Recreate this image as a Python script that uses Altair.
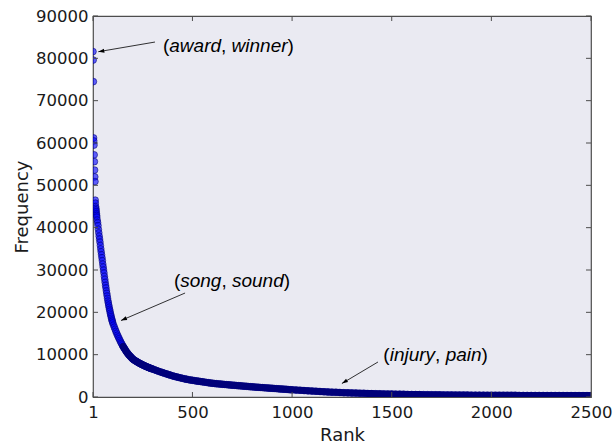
import math
import altair as alt
import pandas as pd

# ---------------- data ----------------
ranks_a = list(range(1, 21))
freq_a = [81600, 79600, 74500, 61200, 60500, 59500, 57200, 55600, 53600, 52000,
          50900, 46500, 45800, 45000, 44600, 44200, 43800, 43300, 42900, 42500]

ranks_b = list(range(22, 101, 2))
freq_b = [41800, 41200, 40500, 39600, 38800, 38000, 37300, 36600, 35800, 35000,
          34300, 33600, 32900, 32200, 31400, 30700, 30000, 29300, 28500, 27800,
          27100, 26400, 25800, 25100, 24500, 23900, 23300, 22700, 22200, 21700,
          21200, 20700, 20300, 19800, 19400, 19000, 18600, 18200, 17900, 17500]

ranks_c = list(range(104, 301, 4))
freq_c = [17000, 16500, 16000, 15500, 15050, 14600, 14200, 13800, 13400, 13000,
          12650, 12300, 11950, 11650, 11350, 11050, 10750, 10500, 10250, 10000,
          9800, 9600, 9400, 9200, 9000, 8850, 8720, 8600, 8480, 8360,
          8250, 8140, 8030, 7930, 7830, 7730, 7640, 7550, 7460, 7370,
          7280, 7200, 7120, 7040, 6960, 6880, 6810, 6740, 6670, 6600]

ranks_d = list(range(310, 1001, 10))
freq_d = [6420, 6250, 6080, 5920, 5760, 5600, 5450, 5300, 5150, 5000,
          4870, 4750, 4630, 4520, 4410, 4300, 4200, 4100, 4020, 3950,
          3870, 3800, 3730, 3660, 3590, 3520, 3450, 3380, 3310, 3250,
          3200, 3150, 3100, 3050, 3010, 2970, 2920, 2880, 2840, 2800,
          2760, 2720, 2680, 2640, 2600, 2560, 2520, 2480, 2440, 2400,
          2365, 2330, 2295, 2260, 2225, 2190, 2155, 2120, 2085, 2050,
          2015, 1980, 1945, 1910, 1875, 1840, 1805, 1770, 1735, 1700]

ranks_e = list(range(1020, 2501, 20))
freq_e = [1640, 1580, 1520, 1460, 1400,
          1350, 1300, 1250, 1200, 1150,
          1110, 1070, 1030, 990, 950,
          920, 890, 860, 830, 800,
          780, 755, 735, 710, 690,
          670, 655, 635, 620, 600,
          585, 570, 555, 545, 530,
          520, 510, 500, 490, 480,
          470, 460, 455, 445, 440,
          435, 430, 420, 415, 410,
          405, 400, 400, 395, 390,
          385, 380, 380, 375, 370,
          365, 365, 360, 355, 355,
          350, 350, 345, 340, 340,
          335, 335, 330, 330, 330]

x_ticks = [1, 500, 1000, 1500, 2000, 2500]
y_ticks = [0, 10000, 20000, 30000, 40000, 50000, 60000, 70000, 80000, 90000]

# annotations: (word1, word2), text anchor, arrow tail, arrow tip (data units)
ann_words = [("award", "winner"), ("song", "sound"), ("injury", "pain")]
ann_text_rank = [352, 407, 1458]
ann_text_freq = [81500, 26100, 8620]
ann_tail_rank = [312, 463, 1431]
ann_tail_freq = [83850, 24560, 8270]
ann_tip_rank = [27.6, 141.5, 1250]
ann_tip_freq = [81560, 18070, 3190]

# ---------------- layout ----------------
W, H = 498, 381
X_DOM = [1, 2500]
Y_DOM = [0, 90000]
px_per_rank = W / (X_DOM[1] - X_DOM[0])
px_per_freq = H / (Y_DOM[1] - Y_DOM[0])
DENSE_FROM = 150  # where overlapping markers merge into a solid dark band

ranks = ranks_a + ranks_b + ranks_c + ranks_d + ranks_e
freqs = freq_a + freq_b + freq_c + freq_d + freq_e
assert len(ranks) == len(freqs)
df = pd.DataFrame({"rank": ranks, "freq": freqs})

x_scale = alt.Scale(domain=X_DOM, nice=False, zero=False)
y_scale = alt.Scale(domain=Y_DOM, nice=False, zero=False)

TXT = "#1a1a1a"
FRAME = "#4d4d4d"

x_axis = alt.Axis(values=x_ticks, format="d", title="Rank", grid=False,
                  domain=False, tickSize=0, labelPadding=7, labelFlush=False,
                  labelOverlap=False, labelFont="DejaVu Sans",
                  labelFontSize=16.5, labelColor=TXT,
                  titleFont="DejaVu Sans", titleFontSize=18,
                  titleFontWeight="normal", titleColor=TXT,
                  titleY=43, titleBaseline="alphabetic")
y_axis = alt.Axis(values=y_ticks, format="d", title="Frequency",
                  grid=False, domain=False, tickSize=0, labelPadding=5,
                  labelOverlap=False, labelFlush=False,
                  labelFont="DejaVu Sans", labelFontSize=16.5,
                  labelColor=TXT, titleFont="DejaVu Sans",
                  titleFontSize=18, titleFontWeight="normal",
                  titleColor=TXT, titleX=-66, titleY=H / 2,
                  titleAngle=-90, titleAlign="center",
                  titleBaseline="alphabetic")

X = lambda f: alt.X(f, scale=x_scale, axis=x_axis)
Y = lambda f: alt.Y(f, scale=y_scale, axis=y_axis)

points = alt.Chart(df).mark_point(
    shape="circle", filled=True, fill="#0000ff", fillOpacity=0.6,
    stroke="#00006e", strokeOpacity=0.6, strokeWidth=0.9, size=45, clip=True
).encode(x=X("rank:Q"), y=Y("freq:Q"))

band = alt.Chart(df).transform_filter(f"datum.rank >= {DENSE_FROM}").mark_line(
    color="#00007a", strokeWidth=7, strokeCap="round", strokeJoin="round",
    clip=True
).encode(x=X("rank:Q"), y=Y("freq:Q"))

xt = pd.DataFrame({"v": x_ticks})
yt = pd.DataFrame({"v": y_ticks})
TL = 5
tick_kw = dict(color=FRAME, strokeWidth=1)
ticks_bottom = alt.Chart(xt).mark_rule(**tick_kw).encode(
    x=X("v:Q"), y=alt.value(H), y2=alt.value(H - TL))
ticks_top = alt.Chart(xt).mark_rule(**tick_kw).encode(
    x=X("v:Q"), y=alt.value(0), y2=alt.value(TL))
ticks_left = alt.Chart(yt).mark_rule(**tick_kw).encode(
    y=Y("v:Q"), x=alt.value(0), x2=alt.value(TL))
ticks_right = alt.Chart(yt).mark_rule(**tick_kw).encode(
    y=Y("v:Q"), x=alt.value(W), x2=alt.value(W - TL))

# arrows
angles = []
for tr, tf, pr, pf in zip(ann_tail_rank, ann_tail_freq, ann_tip_rank, ann_tip_freq):
    dx = (pr - tr) * px_per_rank
    dy = -(pf - tf) * px_per_freq
    angles.append(math.degrees(math.atan2(dx, -dy)) % 360)
arr = pd.DataFrame({"tr": ann_tail_rank, "tf": ann_tail_freq,
                    "pr": ann_tip_rank, "pf": ann_tip_freq, "ang": angles})
arrow_lines = alt.Chart(arr).mark_rule(color="black", strokeWidth=0.8).encode(
    x=X("tr:Q"), x2="pr:Q", y=Y("tf:Q"), y2="pf:Q")
arrow_heads = alt.Chart(arr).mark_point(
    shape="M0,0L0.65,2L-0.65,2Z", filled=True, fill="black", fillOpacity=1,
    size=36, strokeWidth=0
).encode(x=X("pr:Q"), y=Y("pf:Q"), angle=alt.Angle("ang:Q", scale=None))

# annotation text pieces: "(" word1 ", " word2 ")" with italic words
arial = {"(": 333, ")": 333, ",": 278, " ": 278, "a": 556, "w": 722, "r": 333,
         "d": 556, "i": 222, "n": 556, "e": 556, "s": 500, "o": 556, "g": 556,
         "u": 556, "j": 222, "y": 500, "p": 556}
FS = 19
rows = []
for (w1, w2), r0, f0 in zip(ann_words, ann_text_rank, ann_text_freq):
    off = 0.0
    for piece, ital in [("(", False), (w1, True), (", ", False), (w2, True), (")", False)]:
        rows.append({"t": piece, "r": r0 + off / px_per_rank, "f": f0,
                     "st": "italic" if ital else "normal"})
        off += sum(arial[c] for c in piece) / 1000 * FS
tdf = pd.DataFrame(rows)
txt_kw = dict(align="left", baseline="alphabetic", font="Liberation Sans",
              fontSize=FS, color="black")
text_up = alt.Chart(tdf).transform_filter("datum.st == 'normal'").mark_text(
    **txt_kw).encode(x=X("r:Q"), y=Y("f:Q"), text="t:N")
text_it = alt.Chart(tdf).transform_filter("datum.st == 'italic'").mark_text(
    fontStyle="italic", **txt_kw).encode(x=X("r:Q"), y=Y("f:Q"), text="t:N")

chart = alt.layer(
    points, band, ticks_bottom, ticks_top, ticks_left, ticks_right,
    arrow_lines, arrow_heads, text_up, text_it
).properties(
    width=W, height=H,
    autosize=alt.AutoSizeParams(type="none"),
    padding={"left": 93, "top": 16, "right": 22, "bottom": 46},
    background="white",
).configure_view(fill="#EAEAF2", stroke=FRAME, strokeWidth=1.2)

chart.save("out.html", embed_options={"renderer": "svg", "actions": False})
